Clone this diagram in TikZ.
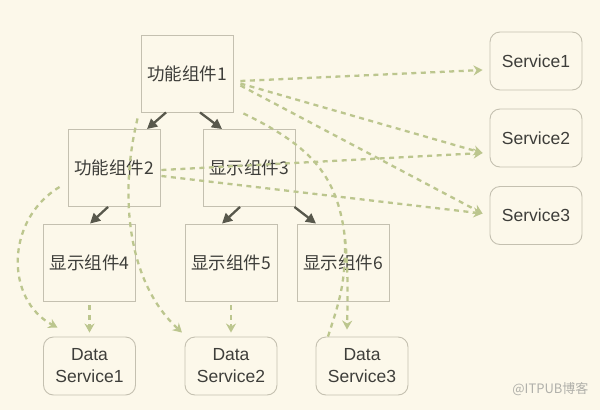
\documentclass[tikz,border=0pt]{standalone}
\usepackage{fontspec}
\setmainfont{Liberation Sans}
\newfontfamily\cjk{Noto Sans CJK SC}
\usetikzlibrary{arrows.meta,calc}
\definecolor{bgc}{RGB}{252,248,234}
\definecolor{boxline}{RGB}{196,192,176}
\definecolor{txt}{RGB}{62,62,58}
\definecolor{darkarr}{RGB}{88,88,76}
\definecolor{greenarr}{RGB}{188,198,142}
\definecolor{wm}{RGB}{176,176,170}
\tikzset{
  comp/.style={draw=boxline, line width=0.9pt, fill=bgc, minimum width=92pt, minimum height=77pt, inner sep=0pt, text=txt, font=\cjk\fontsize{17.5}{19}\selectfont},
  svc/.style={draw=boxline, line width=0.9pt, fill=bgc, rounded corners=10pt, minimum width=92pt, minimum height=58pt, inner sep=0pt, text=txt, align=center, font=\fontsize{17.5}{22}\selectfont},
  calls/.style={draw=darkarr, line width=2.3pt, -{Triangle[length=10pt,width=10pt]}},
  uses/.style={draw=greenarr, line width=2.3pt, dash pattern=on 5pt off 4.5pt, -{Stealth[length=9pt,width=10pt]}},
  usesplain/.style={draw=greenarr, line width=2.3pt, dash pattern=on 5pt off 4.5pt}
}
\begin{document}
\begin{tikzpicture}[x=1pt,y=-1pt]
\fill[bgc] (0,0) rectangle (600,410);
\useasboundingbox (0,0) rectangle (600,410);

\node[comp] (f1) at (187,73.5) {功能组件1};
\node[comp] (f2) at (114,168) {功能组件2};
\node[comp] (f3) at (249,168) {显示组件3};
\node[comp] (f4) at (89.5,262.5) {显示组件4};
\node[comp] (f5) at (231,262.5) {显示组件5};
\node[comp] (f6) at (343,262.5) {显示组件6};

\node[svc] (ds1) at (89.5,366) {Data\\Service1};
\node[svc] (ds2) at (231,366) {Data\\Service2};
\node[svc] (ds3) at (362,366) {Data\\Service3};

\node[svc] (s1) at (536,61) {Service1};
\node[svc] (s2) at (536,138) {Service2};
\node[svc] (s3) at (536,215.5) {Service3};

\node[anchor=east, text=wm, font=\cjk\fontsize{13}{14}\selectfont] (wmk) at (592,389) {@ITPUB博客};

% dark call arrows
\draw[calls] ([shift={(-21,0)}]f1.south) -- ([shift={(33,0)}]f2.north);
\draw[calls] ([shift={(13,0)}]f1.south) -- ([shift={(-27,0)}]f3.north);
\draw[calls] ([shift={(-6,0)}]f2.south) -- ([shift={(0.5,0)}]f4.north);
\draw[calls] ([shift={(-9,0)}]f3.south) -- ([shift={(-9,0)}]f5.north);
\draw[calls] ([shift={(-1,0)}]f3.south east) -- ([shift={(-27,0)}]f6.north);

% dashed service arrows
\draw[uses] ([shift={(7,7.5)}]f1.east) -- ([shift={(-7,9)}]s1.west);
\draw[uses] ([shift={(7,10)}]f1.east) -- ([shift={(-7,15)}]s2.west);
\draw[uses] ([shift={(7,12)}]f1.east) -- ([shift={(-7,-2)}]s3.west);
\draw[uses] ([shift={(1,2)}]f2.east) -- ([shift={(-7,15)}]s2.west);
\draw[uses] ([shift={(1,8)}]f2.east) -- ([shift={(-7,-2)}]s3.west);

% curved data arrows
\draw[uses] ([shift={(10,1)}]f1.south east) .. controls (340,160) and (350,200) .. ([shift={(-15,-7)}]ds3.north) coordinate[pos=0.72] (mid3);
\draw[usesplain] ([shift={(-34,0)}]ds3.north) .. controls (338,305) and (346,285) .. (mid3);
\draw[uses] ([shift={(-3,6)}]f1.south west) .. controls (120,190) and (125,280) .. ([shift={(-49,-4)}]ds2.north);
\draw[uses] ([shift={(-8,19)}]f2.west) .. controls (5,220) and (5,300) .. ([shift={(-32,-9)}]ds1.north);
\draw[uses] ([shift={(0,4)}]f4.south) -- ([shift={(0,-4)}]ds1.north);
\draw[uses] ([shift={(0,4)}]f5.south) -- ([shift={(0,-4)}]ds2.north);
\end{tikzpicture}
\end{document}
